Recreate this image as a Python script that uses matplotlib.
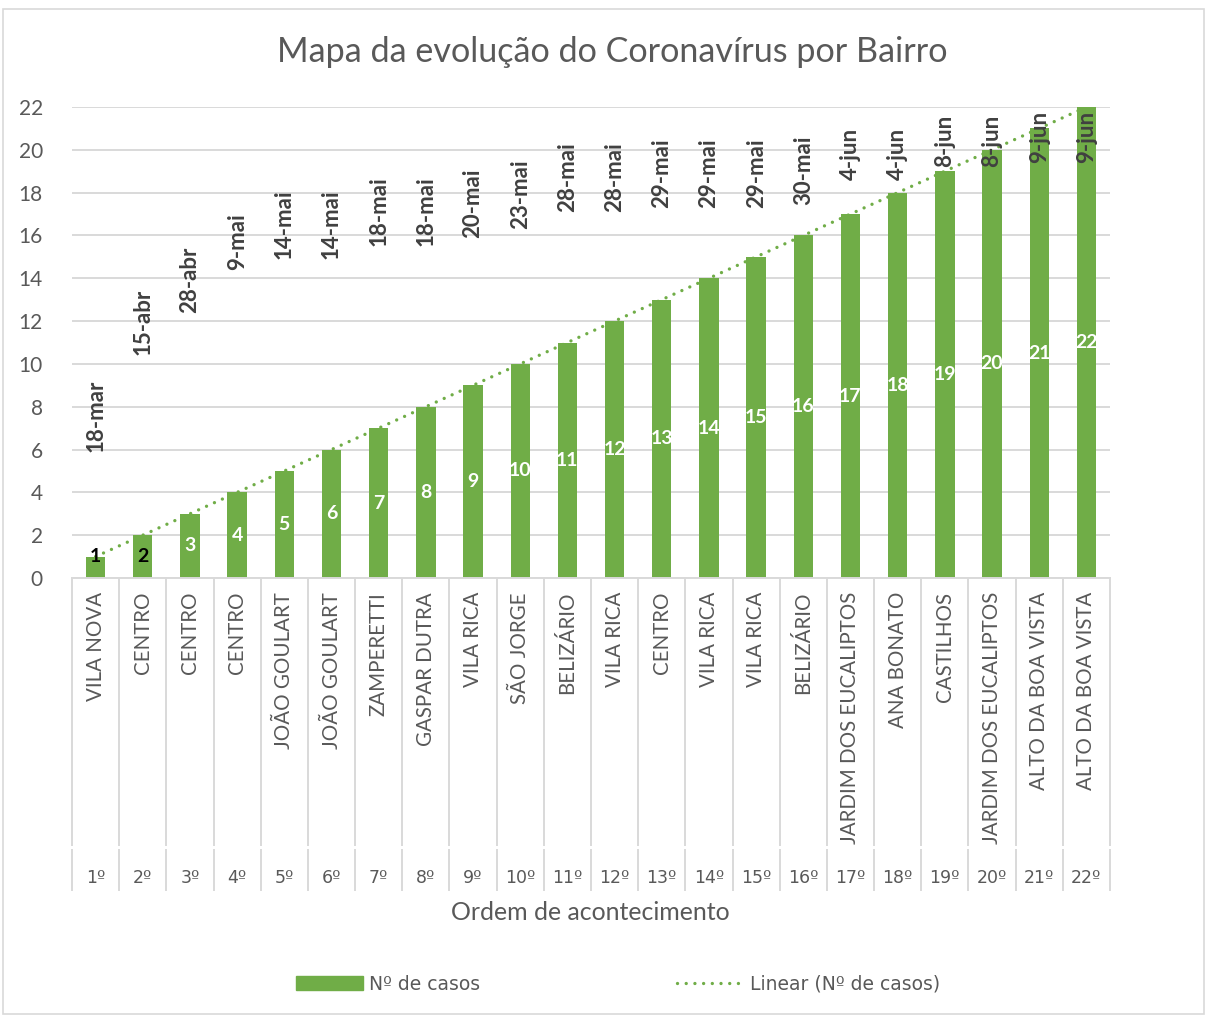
import numpy as np
import matplotlib
matplotlib.use("Agg")
import matplotlib.pyplot as plt
from matplotlib.patches import Rectangle
from matplotlib.lines import Line2D

plt.rcParams['font.family'] = ['Lato', 'DejaVu Sans']

# data
bairros = ["VILA NOVA", "CENTRO", "CENTRO", "CENTRO", "JOÃO GOULART", "JOÃO GOULART",
           "ZAMPERETTI", "GASPAR DUTRA", "VILA RICA", "SÃO JORGE", "BELIZÁRIO", "VILA RICA",
           "CENTRO", "VILA RICA", "VILA RICA", "BELIZÁRIO", "JARDIM DOS EUCALIPTOS",
           "ANA BONATO", "CASTILHOS", "JARDIM DOS EUCALIPTOS", "ALTO DA BOA VISTA",
           "ALTO DA BOA VISTA"]
ordem = [f"{i}º" for i in range(1, 23)]
casos = [1, 2, 3, 4, 5, 6, 7, 8, 9, 10, 11, 12, 13, 14, 15, 16, 17, 18, 19, 20, 21, 22]
datas = ["18-mar", "15-abr", "28-abr", "9-mai", "14-mai", "14-mai", "18-mai", "18-mai",
         "20-mai", "23-mai", "28-mai", "28-mai", "29-mai", "29-mai", "29-mai", "30-mai",
         "4-jun", "4-jun", "8-jun", "8-jun", "9-jun", "9-jun"]
# where the date labels sit (y units), estimated
datas_y = [5.9, 10.4, 12.4, 14.4, 14.9, 14.9, 15.5, 15.5, 15.9, 16.3, 17.1, 17.1,
           17.3, 17.3, 17.3, 17.4, 18.6, 18.6, 19.2, 19.2, 19.4, 19.4]

W, H = 1207, 1016
verde = "#70AD47"
cinza = "#595959"
grade = "#D9D9D9"
ord_font = ['DejaVu Sans']  # only one with the underlined º

fig = plt.figure(figsize=(W / 100, H / 100), dpi=100)
fig.patches.append(Rectangle((3 / W, 0.002), 1201 / W, 1 - 9 / H - 0.002,
                             transform=fig.transFigure, fill=False,
                             edgecolor=grade, lw=1.2))

ax = fig.add_axes([72 / W, 1 - 578 / H, (1110 - 72) / W, (578 - 107) / H])
x = np.arange(len(casos))
bars = ax.bar(x, casos, width=0.41, color=verde, zorder=2)

coef = np.polyfit(x, casos, 1)
trend, = ax.plot(x, np.polyval(coef, x), color=verde, lw=2.4,
                 linestyle=(0, (0.01, 2.6)), dash_capstyle='round', zorder=3)

ax.set_xlim(-0.5, len(casos) - 0.5)
ax.set_ylim(0, 22)
ax.set_yticks(range(0, 23, 2))
ax.set_xticks([])
ax.yaxis.grid(True, color=grade, lw=1.4)
ax.set_axisbelow(True)
for s in ["top", "right", "left"]:
    ax.spines[s].set_visible(False)
ax.spines["bottom"].set_color(grade)
ax.spines["bottom"].set_linewidth(1.4)
ax.tick_params(axis='y', length=0, labelsize=15, labelcolor=cinza, pad=21)

# value labels
for xi, v in zip(x, casos):
    cor = "black" if v <= 2 else "white"
    ax.text(xi, max(v / 2, 1), str(v), ha='center', va='center', color=cor,
            fontsize=14, fontweight='bold', zorder=4)

# date labels
for xi, d, yd in zip(x, datas, datas_y):
    ax.text(xi, yd, d, rotation=90, ha='center', va='bottom', color="#404040",
            fontsize=16, fontweight='bold', zorder=4)

# category axis (two levels)
tr = ax.get_xaxis_transform()
px = 1 / (578 - 107)
for k in range(len(casos) + 1):
    ax.plot([k - 0.5, k - 0.5], [0, -267 * px], color=grade, lw=1.4,
            transform=tr, clip_on=False)
    ax.plot([k - 0.5, k - 0.5], [-272 * px, -312 * px], color=grade, lw=1.4,
            transform=tr, clip_on=False)
for xi, b, o in zip(x, bairros, ordem):
    ax.text(xi, -14 * px, b, rotation=90, ha='center', va='top', color=cinza,
            fontsize=14.8, transform=tr)
    ax.text(xi, -300 * px, o, ha='center', va='center', color=cinza,
            fontsize=12.5, family=ord_font, transform=tr)

fig.text(590 / W, 1 - 913 / H, "Ordem de acontecimento", ha='center', va='center',
         color=cinza, fontsize=17.9)
fig.text(612 / W, 1 - 52 / H, "Mapa da evolução do Coronavírus por Bairro",
         ha='center', va='center', color=cinza, fontsize=24.6)

leg_bar = Rectangle((0, 0), 1, 1, color=verde)
leg_line = Line2D([0], [0], color=verde, lw=2.4, linestyle=(0, (0.01, 2.6)),
                  dash_capstyle='round')
fig.legend([leg_bar, leg_line], ["Nº de casos", "Linear (Nº de casos)"],
           loc='center', bbox_to_anchor=(618 / W, 1 - 984 / H), ncol=2,
           frameon=False, prop={'family': ord_font, 'size': 13.5},
           labelcolor=cinza, handlelength=3.6, handleheight=0.75,
           handletextpad=0.3, columnspacing=10.5)

fig.savefig("out.png", dpi=100)
